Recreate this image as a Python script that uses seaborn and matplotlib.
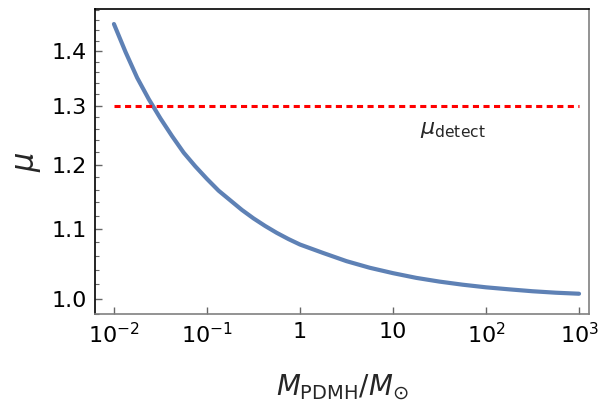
import numpy as np
import pandas as pd
import matplotlib
matplotlib.use("Agg")
import matplotlib.pyplot as plt
import seaborn as sns
from matplotlib.ticker import FixedLocator, FixedFormatter, NullFormatter, NullLocator

# ---- data ----
log_mass = [-2.0, -1.875, -1.75, -1.625, -1.5, -1.375, -1.25, -1.125, -1.0,
            -0.875, -0.75, -0.625, -0.5, -0.375, -0.25, -0.125, 0.0,
            0.25, 0.5, 0.75, 1.0, 1.25, 1.5, 1.75, 2.0, 2.25, 2.5, 2.75, 3.0]
mu_values = [1.4521, 1.3979, 1.3499, 1.3113, 1.2776, 1.2473, 1.2196, 1.1972, 1.1770,
             1.1584, 1.1434, 1.1286, 1.1157, 1.1043, 1.0940, 1.0849, 1.0768,
             1.0645, 1.0528, 1.0434, 1.0358, 1.0292, 1.0240, 1.0197, 1.0161,
             1.0133, 1.0107, 1.0087, 1.0073]
mu_detect = 1.3
detect_range = [0.01, 1000.0]

x_tick_values = [0.01, 0.1, 1, 10, 100, 1000]
x_tick_labels = [r"$10^{-2}$", r"$10^{-1}$", "1", "10", r"$10^{2}$", r"$10^{3}$"]
y_tick_values = [1.0, 1.1, 1.2, 1.3, 1.4]
y_tick_labels = ["1.0", "1.1", "1.2", "1.3", "1.4"]
y_minor_values = [0.98 + 0.02 * i for i in range(26)]

df = pd.DataFrame({"M": [10 ** v for v in log_mass], "mu": mu_values})
df_det = pd.DataFrame({"M": detect_range, "mu": [mu_detect, mu_detect]})

sns.set_style("white")
plt.rcParams["font.family"] = ["DejaVu Sans"]
plt.rcParams["mathtext.default"] = "regular"

fig = plt.figure(figsize=(6.08, 4.05), dpi=100)
ax = fig.add_axes([0.1562, 0.2247, 0.8126, 0.7531])

sns.lineplot(data=df, x="M", y="mu", ax=ax, color="#5E81B5", linewidth=3.0)
sns.lineplot(data=df_det, x="M", y="mu", ax=ax, color="#FF0000", linewidth=2.2)
ax.lines[-1].set_dashes([2.0, 1.45])

ax.set_xscale("log")
ax.set_yscale("log")
ax.set_xlim(10 ** -2.204, 10 ** 3.1075)
ax.set_ylim(0.980, 1.482)

ax.xaxis.set_major_locator(FixedLocator(x_tick_values))
ax.xaxis.set_major_formatter(FixedFormatter(x_tick_labels))
ax.xaxis.set_minor_locator(NullLocator())
ax.yaxis.set_major_locator(FixedLocator(y_tick_values))
ax.yaxis.set_major_formatter(FixedFormatter(y_tick_labels))
ax.yaxis.set_minor_locator(FixedLocator(y_minor_values))
ax.yaxis.set_minor_formatter(NullFormatter())

ax.tick_params(axis="both", which="both", direction="in", labelsize=16,
               pad=6, colors="#666666", labelcolor="black",
               bottom=True, left=True, top=False, right=False)
ax.tick_params(axis="both", which="major", length=5, width=1.0)
ax.tick_params(axis="y", which="minor", length=3, width=0.8)

for side, col in {"left": "black", "top": "black", "bottom": "#808080", "right": "#808080"}.items():
    ax.spines[side].set_visible(True)
    ax.spines[side].set_color(col)
    ax.spines[side].set_linewidth(1.2)

ax.set_xlabel(r"$\mathit{M}_{\mathrm{PDMH}}/\mathit{M}_{\odot}$", fontsize=20)
ax.xaxis.set_label_coords(0.5, -0.19)
ax.set_ylabel(r"$\mathit{\mu}$", fontsize=22)
ax.yaxis.set_label_coords(-0.105, 0.5)

ax.text(44, 1.257, r"$\mathit{\mu}_{\mathrm{detect}}$", fontsize=16,
        ha="center", va="center")

fig.savefig("out.png", dpi=100)
